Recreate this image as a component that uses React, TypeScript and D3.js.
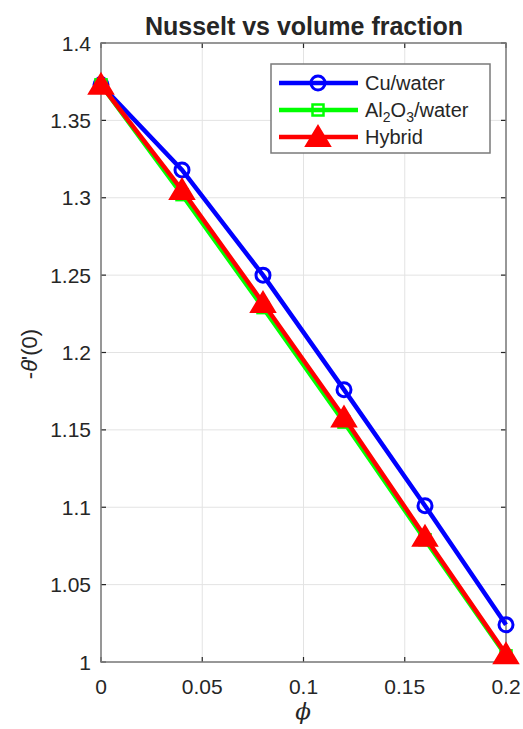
import React from "react";
import * as d3 from "d3";

const phi = [0, 0.04, 0.08, 0.12, 0.16, 0.2];
const cuWater = [1.373, 1.318, 1.250, 1.176, 1.101, 1.024];
const alWater = [1.373, 1.302, 1.229, 1.155, 1.079, 1.004];
const hybrid = [1.373, 1.305, 1.232, 1.158, 1.081, 1.005];
const xTicks = [0, 0.05, 0.1, 0.15, 0.2];
const yTicks = [1, 1.05, 1.1, 1.15, 1.2, 1.25, 1.3, 1.35, 1.4];

const W = 523, H = 729;
const L = 101, R = 506, T = 43, B = 662;
const FONT = "Liberation Sans, Arial, Helvetica, sans-serif";

export default function App() {
  const x = d3.scaleLinear().domain([0, 0.2]).range([L, R]);
  const y = d3.scaleLinear().domain([1, 1.4]).range([B, T]);
  const line = (vals: number[]) =>
    d3.line<number>().x((_, i) => x(phi[i])).y((d) => y(d))(vals) || "";
  const axisCol = "#7a7a7a";
  const tri = "M0,-11 L12,9 L-12,9 Z";

  const circle = (cx: number, cy: number, k: string) => (
    <circle key={k} cx={cx} cy={cy} r={7} fill="none" stroke="#0000ff" strokeWidth={3} />
  );
  const square = (cx: number, cy: number, k: string) => (
    <rect key={k} x={cx - 5.5} y={cy - 5.5} width={11} height={11} fill="none" stroke="#00ff00" strokeWidth={2.5} />
  );
  const triangle = (cx: number, cy: number, k: string) => (
    <path key={k} d={tri} transform={`translate(${cx},${cy})`} fill="#ff0000" stroke="#ff0000" strokeWidth={2} strokeLinejoin="miter" />
  );

  const legendRows = [
    { y: 83, color: "#0000ff", marker: circle, label: <tspan>Cu/water</tspan> },
    {
      y: 110,
      color: "#00ff00",
      marker: square,
      label: (
        <>
          <tspan>Al</tspan>
          <tspan fontSize={14} dy={5}>2</tspan>
          <tspan dy={-5}>O</tspan>
          <tspan fontSize={14} dy={5}>3</tspan>
          <tspan dy={-5}>/water</tspan>
        </>
      ),
    },
    { y: 137, color: "#ff0000", marker: triangle, label: <tspan>Hybrid</tspan> },
  ];

  return (
    <svg width={W} height={H} style={{ position: "absolute", left: 0, top: 0, background: "#fff" }} fontFamily={FONT}>
      <rect x={0} y={0} width={W} height={H} fill="#fff" />
      {xTicks.map((t) => (
        <line key={"gx" + t} x1={x(t)} x2={x(t)} y1={T} y2={B} stroke="#e3e3e3" strokeWidth={1} />
      ))}
      {yTicks.map((t) => (
        <line key={"gy" + t} x1={L} x2={R} y1={y(t)} y2={y(t)} stroke="#e3e3e3" strokeWidth={1} />
      ))}
      {xTicks.map((t) => (
        <g key={"tx" + t}>
          <line x1={x(t)} x2={x(t)} y1={B} y2={B - 5} stroke="#262626" strokeWidth={1.2} />
          <line x1={x(t)} x2={x(t)} y1={T} y2={T + 5} stroke="#262626" strokeWidth={1.2} />
          <text x={x(t)} y={694} textAnchor="middle" fontSize={21} fill="#262626">
            {String(t)}
          </text>
        </g>
      ))}
      {yTicks.map((t) => (
        <g key={"ty" + t}>
          <line x1={L} x2={L + 5} y1={y(t)} y2={y(t)} stroke="#262626" strokeWidth={1.2} />
          <line x1={R} x2={R - 5} y1={y(t)} y2={y(t)} stroke="#262626" strokeWidth={1.2} />
          <text x={91} y={y(t) + 7.5} textAnchor="end" fontSize={21} fill="#262626">
            {String(t)}
          </text>
        </g>
      ))}
      <rect x={L} y={T} width={R - L} height={B - T} fill="none" stroke={axisCol} strokeWidth={1.5} />
      <path d={line(cuWater)} fill="none" stroke="#0000ff" strokeWidth={4.5} />
      {cuWater.map((v, i) => circle(x(phi[i]), y(v), "c" + i))}
      <path d={line(alWater)} fill="none" stroke="#00ff00" strokeWidth={4.5} />
      {alWater.map((v, i) => square(x(phi[i]), y(v), "s" + i))}
      <path d={line(hybrid)} fill="none" stroke="#ff0000" strokeWidth={4.5} />
      {hybrid.map((v, i) => triangle(x(phi[i]), y(v), "t" + i))}
      <rect x={271} y={64} width={219} height={89} fill="#fff" stroke={axisCol} strokeWidth={1.5} />
      {legendRows.map((r, i) => (
        <g key={"lg" + i}>
          <line x1={279} x2={358} y1={r.y} y2={r.y} stroke={r.color} strokeWidth={4.5} />
          {r.marker(318, r.y, "lm" + i)}
          <text x={365} y={r.y + 7} fontSize={20} fill="#262626">
            {r.label}
          </text>
        </g>
      ))}
      <text x={304} y={35} textAnchor="middle" fontSize={25} fontWeight="bold" fill="#262626">
        Nusselt vs volume fraction
      </text>
      <text x={303} y={719} textAnchor="middle" fontSize={23} fontStyle="italic" fill="#262626" fontFamily="DejaVu Serif, serif">
        ϕ
      </text>
      <text transform="translate(37,354) rotate(-90)" textAnchor="middle" fontSize={22} fill="#262626">
        -<tspan fontStyle="italic">θ</tspan>'(0)
      </text>
    </svg>
  );
}
